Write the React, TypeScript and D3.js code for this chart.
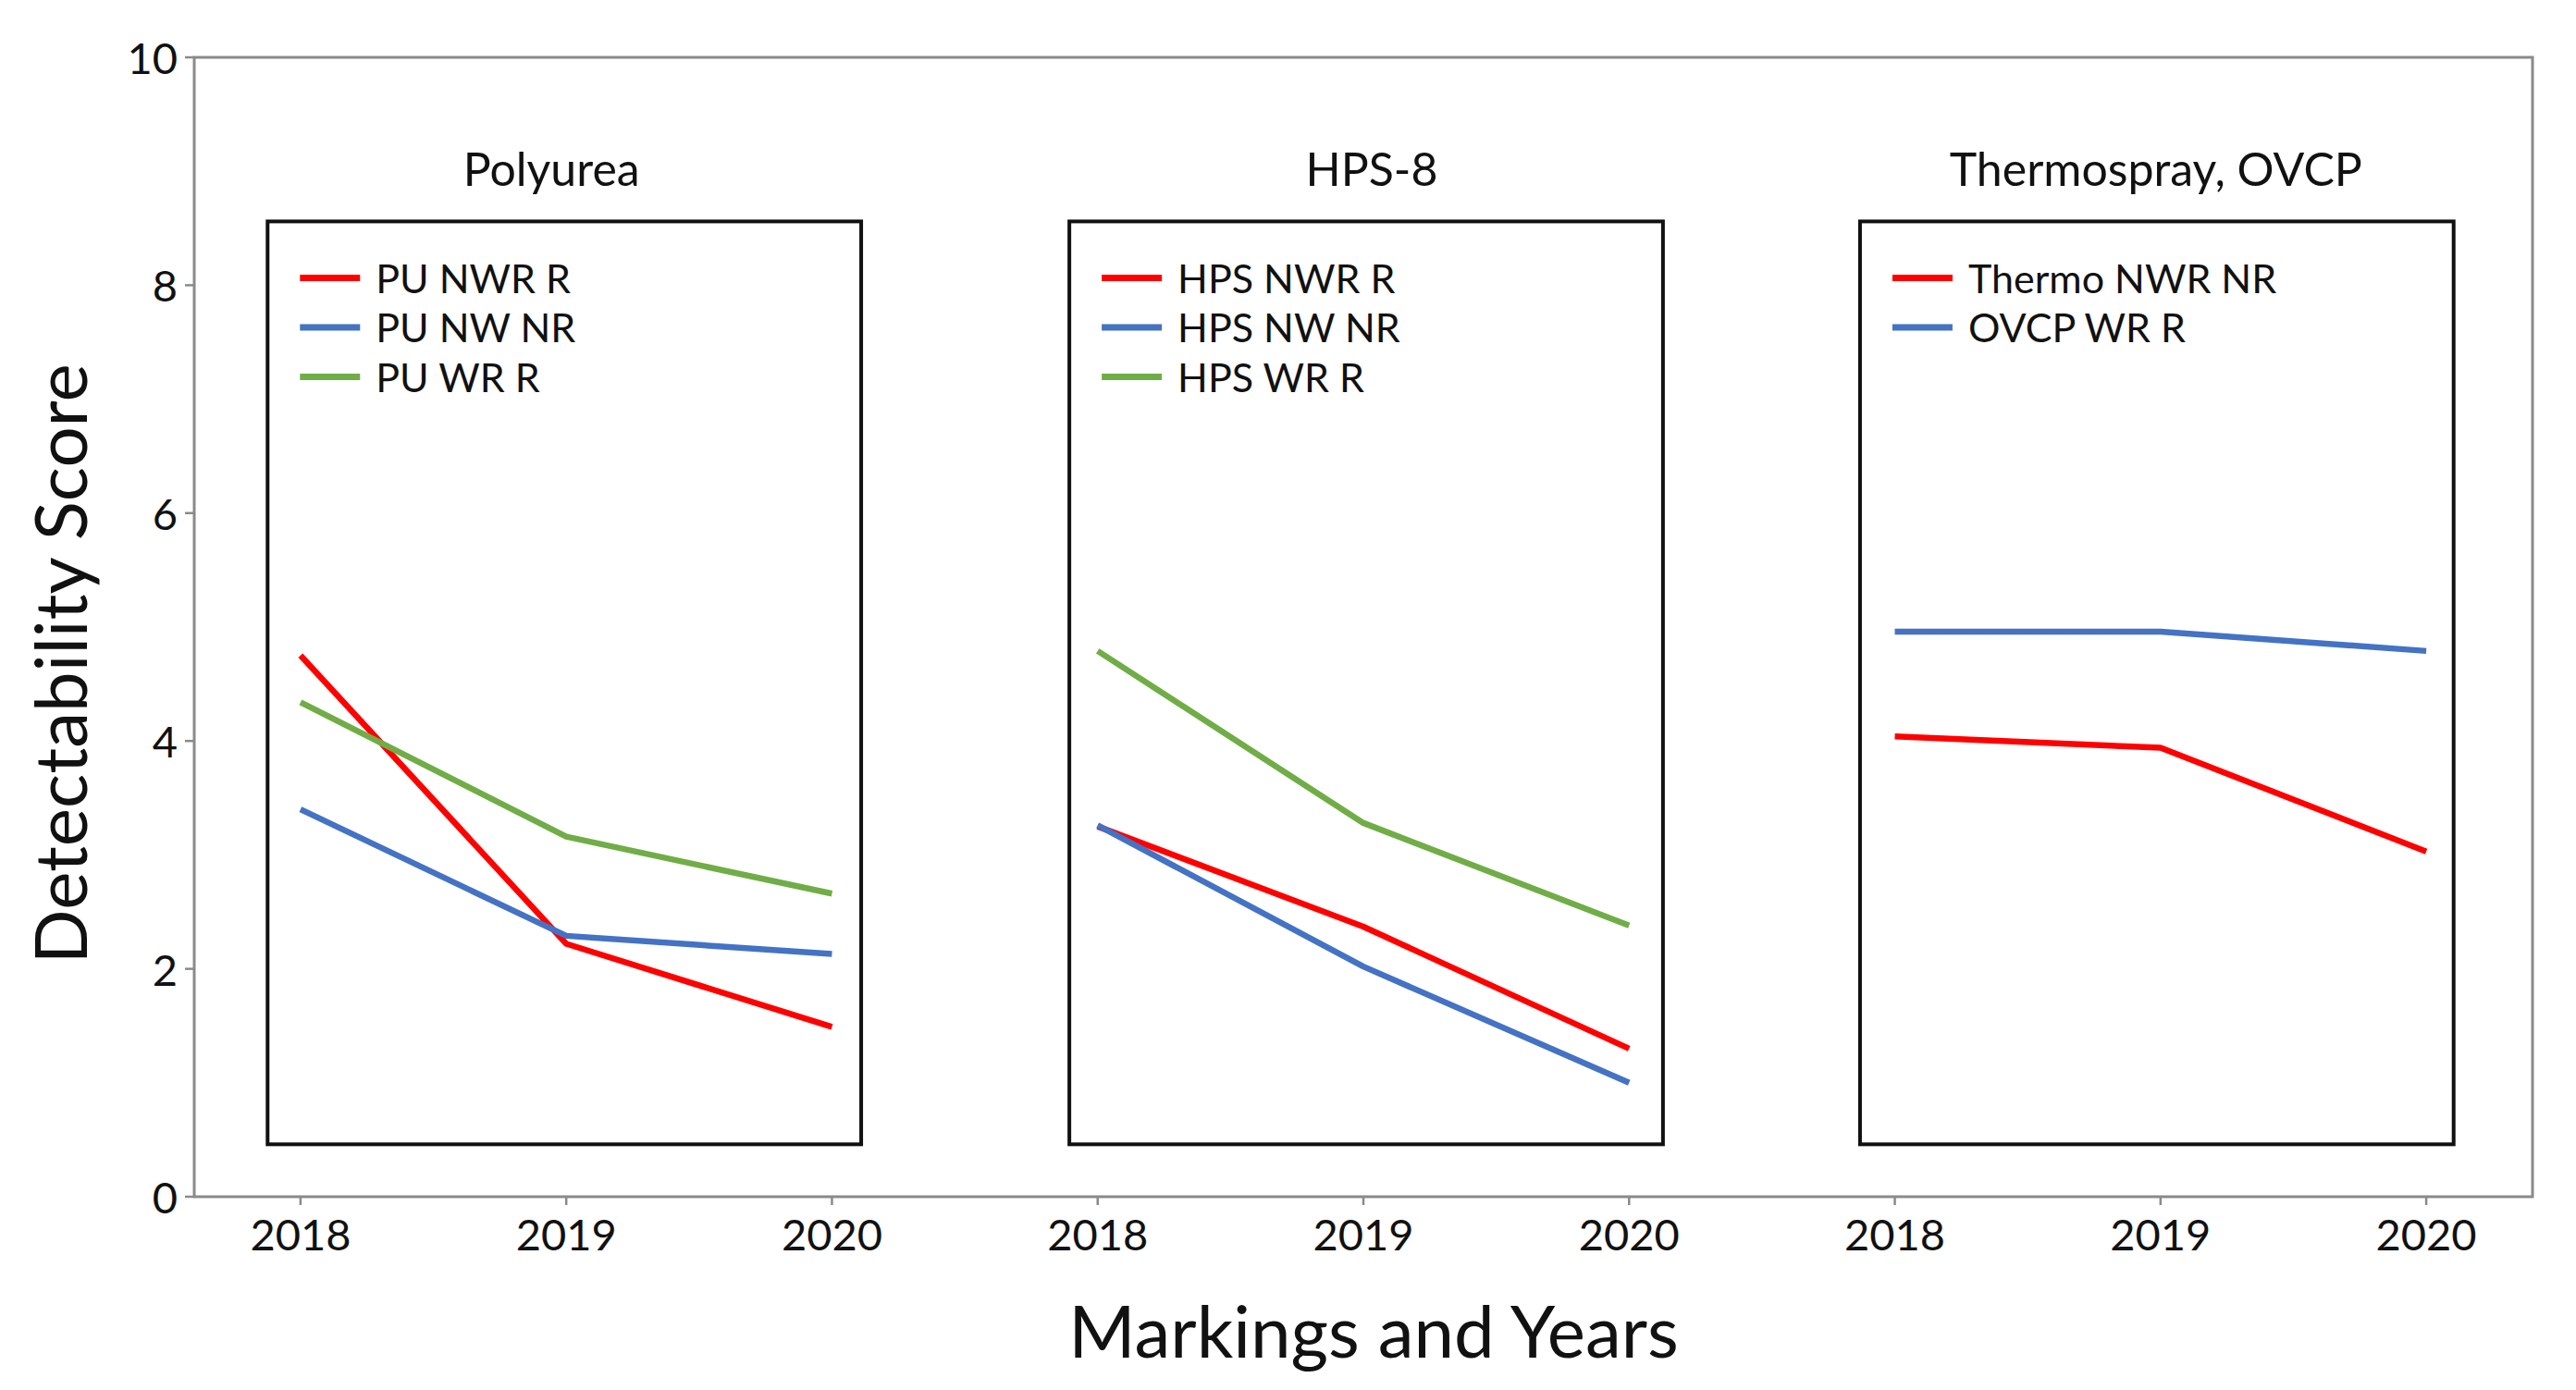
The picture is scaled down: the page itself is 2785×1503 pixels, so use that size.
import React from "react";
import * as d3 from "d3";

// ---- data ----
const years = ["2018", "2019", "2020"];
const panelTitles = ["Polyurea", "HPS-8", "Thermospray, OVCP"];

const puNames = ["PU NWR R", "PU NW NR", "PU WR R"];
const puNWR_R = [4.75, 2.22, 1.49];
const puNW_NR = [3.4, 2.29, 2.13];
const puWR_R = [4.34, 3.16, 2.66];

const hpsNames = ["HPS NWR R", "HPS NW NR", "HPS WR R"];
const hpsNWR_R = [3.25, 2.37, 1.3];
const hpsNW_NR = [3.26, 2.02, 1.0];
const hpsWR_R = [4.79, 3.28, 2.38];

const thermoNames = ["Thermo NWR NR", "OVCP WR R"];
const thermoNWR_NR = [4.04, 3.94, 3.03];
const ovcpWR_R = [4.96, 4.96, 4.79];

const yTicks = [0, 2, 4, 6, 8, 10];

const seriesColors = ["#FF0000", "#4472C4", "#70AD47"];

const panels = [
  { title: panelTitles[0], names: puNames, values: [puNWR_R, puNW_NR, puWR_R] },
  { title: panelTitles[1], names: hpsNames, values: [hpsNWR_R, hpsNW_NR, hpsWR_R] },
  { title: panelTitles[2], names: thermoNames, values: [thermoNWR_NR, ovcpWR_R] },
];

// small layout nudges (pixels) for titles and boxes per panel
const titleShift = [-16, 9, -5];
const boxShift = [-2, 3, -4];

const W = 2785;
const H = 1503;
const FONT = "Lato, 'Open Sans', sans-serif";

export default function App() {
  const left = 210, right = 2738, top = 62, bottom = 1294;
  const keys = panels.flatMap((p, pi) => years.map((y) => `${pi}-${y}`));
  const x = d3.scalePoint<string>().domain(keys).range([left, right]).padding(0.4);
  const y = d3.scaleLinear().domain([0, 10]).range([bottom, top]);
  const step = x.step();
  const line = d3
    .line<{ k: string; v: number }>()
    .x((d) => x(d.k) as number)
    .y((d) => y(d.v));

  const axisColor = "#8a8a8a";

  return (
    <svg
      width={W}
      height={H}
      style={{ position: "absolute", left: 0, top: 0, background: "#fff" }}
      fontFamily={FONT}
    >
      <rect x={0} y={0} width={W} height={H} fill="#fff" />
      {/* outer frame */}
      <rect x={left} y={top} width={right - left} height={bottom - top} fill="none" stroke={axisColor} strokeWidth={3} />
      {/* y ticks */}
      {yTicks.map((t) => (
        <g key={t}>
          <line x1={left - 10} x2={left} y1={y(t)} y2={y(t)} stroke={axisColor} strokeWidth={2.5} />
          <text x={left - 18} y={y(t)} textAnchor="end" dominantBaseline="central" fontSize={47} fill="#111">
            {t}
          </text>
        </g>
      ))}
      {/* x ticks */}
      {keys.map((k) => (
        <g key={k}>
          <line x1={x(k)} x2={x(k)} y1={bottom} y2={bottom + 9} stroke={axisColor} strokeWidth={2.5} />
          <text x={x(k)} y={bottom + 40} textAnchor="middle" dominantBaseline="central" fontSize={47} fill="#111">
            {k.split("-")[1]}
          </text>
        </g>
      ))}
      {/* axis titles */}
      <text
        transform={`translate(64, ${(top + bottom) / 2 + 40}) rotate(-90)`}
        textAnchor="middle"
        dominantBaseline="central"
        fontSize={78}
        fill="#111"
      >
        Detectability Score
      </text>
      <text x={1485} y={1468} textAnchor="middle" fontSize={78} fill="#111">
        Markings and Years
      </text>
      {panels.map((p, pi) => {
        const mid = x(`${pi}-${years[1]}`) as number;
        const bx0 = mid - 1.117 * step + boxShift[pi];
        const bx1 = mid + 1.117 * step + boxShift[pi];
        const by0 = y(8.56);
        const by1 = y(0.46);
        return (
          <g key={pi}>
            <text x={mid + titleShift[pi]} y={201} textAnchor="middle" fontSize={50} fill="#111">
              {p.title}
            </text>
            <rect x={bx0} y={by0} width={bx1 - bx0} height={by1 - by0} fill="#fff" stroke="#111" strokeWidth={4} />
            {p.values.map((vals, si) => (
              <path
                key={si}
                d={line(vals.map((v, i) => ({ k: `${pi}-${years[i]}`, v }))) || ""}
                fill="none"
                stroke={seriesColors[si]}
                strokeWidth={6.5}
                strokeLinejoin="round"
              />
            ))}
            {p.names.map((n, si) => {
              const ly = by0 + 61 + si * 53.5;
              return (
                <g key={n}>
                  <line x1={bx0 + 35} x2={bx0 + 100} y1={ly} y2={ly} stroke={seriesColors[si]} strokeWidth={7} />
                  <text x={bx0 + 117} y={ly} dominantBaseline="central" fontSize={43} fill="#111">
                    {n}
                  </text>
                </g>
              );
            })}
          </g>
        );
      })}
    </svg>
  );
}
